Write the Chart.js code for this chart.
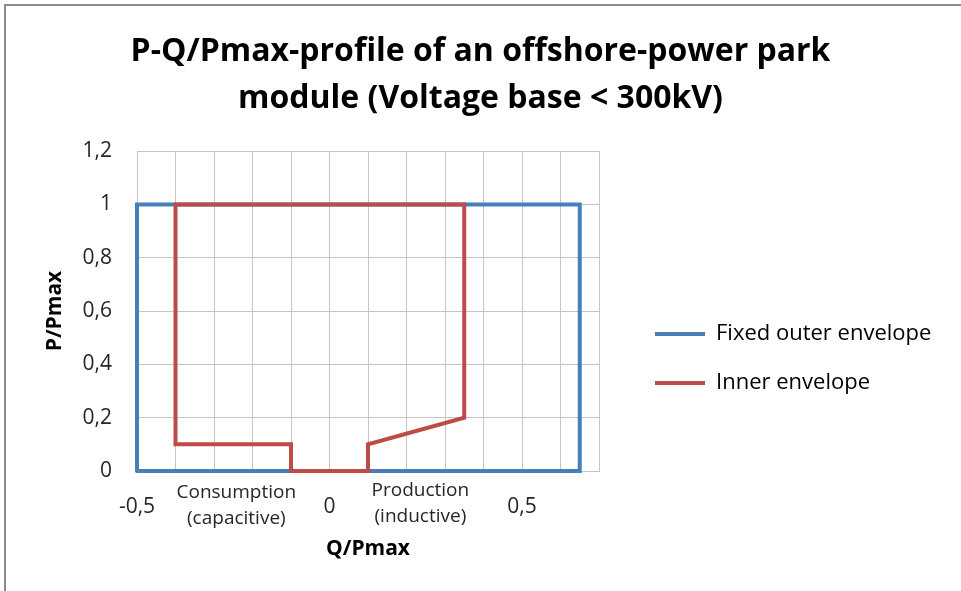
<!DOCTYPE html>
<html>
<head>
<meta charset="utf-8">
<script src="https://cdn.jsdelivr.net/npm/chart.js@4.4.0/dist/chart.umd.min.js"></script>
<style>
    html, body { margin: 0; padding: 0; background: #fff; overflow: hidden; }
    #frame { position: absolute; left: 4px; top: 4px; width: 2000px; height: 2000px; border-left: 2px solid #8c8c8c; border-top: 2px solid #8c8c8c; }
    #myChart { position: absolute; left: 0; top: 0; }
</style>
</head>
<body>
<div id="frame"></div>
<canvas id="myChart" width="961" height="591"></canvas>
<script>
// data
let outerQ = [-0.5, -0.5, 0.65, 0.65, -0.5]
let outerP = [0, 1, 1, 0, 0]
let innerQ = [-0.1, -0.1, -0.4, -0.4, 0.35, 0.35, 0.1, 0.1, -0.1]
let innerP = [0, 0.1, 0.1, 1, 1, 0.2, 0.1, 0, 0]
let seriesNames = ["Fixed outer envelope", "Inner envelope"]
let xTickLabels = [-0.5, 0, 0.5]
let noteQ = [-0.242, 0.236]
let noteText = [["Consumption", "(capacitive)"], ["Production", "(inductive)"]]

const fmt = v => String(Math.round(v * 10) / 10).replace(".", ",")
const points = (qs, ps) => qs.map((q, i) => ({ x: q, y: ps[i] }))

Chart.defaults.font.family = "Open Sans"
Chart.defaults.color = "#262626"

// text boxes under the x axis
const notes = {
    id: "notes",
    afterDraw(chart) {
        const ctx = chart.ctx
        const x = chart.scales.x
        ctx.save()
        ctx.font = "19px 'Open Sans'"
        ctx.fillStyle = "#262626"
        ctx.textAlign = "center"
        ctx.textBaseline = "middle"
        noteQ.forEach((q, i) => {
            const px = x.getPixelForValue(q)
            const y0 = chart.chartArea.bottom + (i == 0 ? 22 : 20)
            noteText[i].forEach((t, j) => ctx.fillText(t, px, y0 + j * 26))
        })
        ctx.restore()
    }
}

// move legend and title where Excel had them
const placeBoxes = {
    id: "placeBoxes",
    afterLayout(chart) {
        const lg = chart.legend
        lg.left = 628; lg.right = 961; lg.width = 333
        lg.top = 296; lg.bottom = 450; lg.height = 154
        const tb = chart.titleBlock
        tb.left = 0; tb.right = 961; tb.width = 961
    }
}

new Chart("myChart", {
    type: "scatter",
    data: {
        datasets: [
            {
                label: seriesNames[0],
                data: points(outerQ, outerP),
                borderColor: "#4a7ebb",
                backgroundColor: "#4a7ebb",
                borderWidth: 4,
                order: 2,
            },
            {
                label: seriesNames[1],
                data: points(innerQ, innerP),
                borderColor: "#be4b48",
                backgroundColor: "#be4b48",
                borderWidth: 4,
                order: 1,
            },
        ]
    },
    plugins: [notes, placeBoxes],
    options: {
        responsive: false,
        animation: false,
        showLine: true,
        clip: false,
        layout: { padding: { left: 0, right: 112, top: 0, bottom: 0 } },
        elements: {
            point: { radius: 0, hoverRadius: 0 },
            line: { tension: 0, borderJoinStyle: "miter", borderCapStyle: "round" }
        },
        plugins: {
            title: {
                display: true,
                text: ["P-Q/Pmax-profile of an offshore-power park", "module (Voltage base < 300kV)"],
                color: "#000",
                font: { size: 32, weight: "bold", lineHeight: 1.47 },
                padding: { top: 28, bottom: 29 }
            },
            legend: {
                position: "right",
                align: "start",
                maxWidth: 250,
                labels: {
                    usePointStyle: true,
                    pointStyle: "line",
                    pointStyleWidth: 50,
                    padding: 27,
                    color: "#000",
                    font: { size: 22 },
                    sort: (a, b) => a.datasetIndex - b.datasetIndex
                }
            },
            tooltip: { enabled: false }
        },
        scales: {
            x: {
                type: "linear",
                min: -0.5,
                max: 0.7,
                afterFit: s => { s.height = 120 },
                grid: { color: "#c4c4c4", drawTicks: false },
                border: { color: "#c4c4c4" },
                ticks: {
                    stepSize: 0.1,
                    autoSkip: false,
                    maxRotation: 0,
                    padding: 23,
                    font: { size: 21 },
                    callback: v => xTickLabels.includes(Math.round(v * 10) / 10) ? fmt(v) : ""
                },
                title: {
                    display: true,
                    text: "Q/Pmax",
                    color: "#000",
                    font: { size: 21, weight: "bold" },
                    padding: { top: 0, bottom: 29 }
                }
            },
            y: {
                min: 0,
                max: 1.2,
                afterFit: s => { s.width = 137 },
                grid: { color: "#c4c4c4", drawTicks: false },
                border: { color: "#c4c4c4" },
                ticks: {
                    stepSize: 0.2,
                    padding: 25,
                    font: { size: 21 },
                    callback: v => fmt(v)
                },
                title: {
                    display: true,
                    text: "P/Pmax",
                    color: "#000",
                    font: { size: 21, weight: "bold" },
                    padding: { top: 42, bottom: 0 }
                }
            }
        }
    }
})
</script>
</body>
</html>
